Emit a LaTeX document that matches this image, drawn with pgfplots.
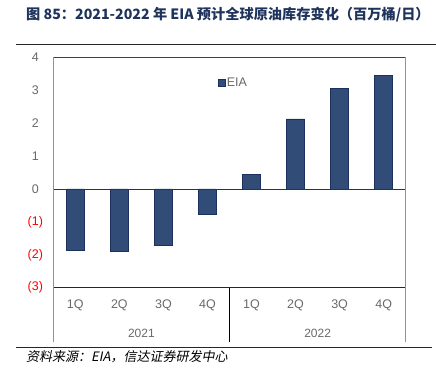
\documentclass[border=0pt]{standalone}
\usepackage{pgfplots}
\pgfplotsset{compat=1.18}
\usepackage{fontspec}
\setmainfont{Liberation Sans}
\newfontfamily\cjk{Noto Sans CJK SC}
\newfontfamily\cjkit[FakeSlant=0.2]{Noto Sans CJK SC}
\definecolor{barfill}{RGB}{50,76,120}
\definecolor{baredge}{RGB}{28,48,92}
\definecolor{titlecol}{RGB}{31,52,92}
\definecolor{lblgray}{RGB}{105,105,105}
\begin{document}
\begin{tikzpicture}
\useasboundingbox (-53.3pt,-87.3pt) rectangle (382.7pt,287.7pt);
\begin{axis}[
  at={(0,0)}, anchor=south west,
  scale only axis, width=352.4pt, height=230.4pt,
  xmin=0, xmax=8, ymin=-3, ymax=4,
  axis line style={draw=none},
  clip=false,
  major tick length=0pt,
  xtick={0.5,1.5,2.5,3.5,4.5,5.5,6.5,7.5},
  xticklabels={1Q,2Q,3Q,4Q,1Q,2Q,3Q,4Q},
  ytick={-3,-2,-1,0,1,2,3,4},
  yticklabels={\textcolor{red}{(3)},\textcolor{red}{(2)},\textcolor{red}{(1)},0,1,2,3,4},
  xticklabel style={anchor=center, yshift=-18pt, font=\fontsize{12.5}{14}\selectfont, text=lblgray},
  yticklabel style={anchor=center, xshift=-18pt, font=\fontsize{12.5}{14}\selectfont, text=lblgray},
  legend style={at={(axis cs:3.74,3.23)}, anchor=west, draw=none, fill=none,
    inner sep=0pt, font=\fontsize{12.5}{14}\selectfont, text=lblgray,
    nodes={inner sep=1.5pt}},
  legend image code/.code={\draw[fill=barfill,draw=baredge,line width=0.5pt] (0pt,-3.3pt) rectangle (6.6pt,3.3pt);},
]
\addplot[ybar, bar width=18pt, fill=barfill, draw=baredge, line width=0.6pt]
  coordinates {(0.5,-1.85) (1.5,-1.89) (2.5,-1.71) (3.5,-0.76)
               (4.5,0.45) (5.5,2.13) (6.5,3.06) (7.5,3.46)};
\addlegendentry{EIA}
\end{axis}
% frame lines (axis box: 352.4pt x 230.4pt, zero at 98.74pt)
\draw[black!80, line width=0.8pt] (0pt,98.74pt) -- (352.4pt,98.74pt);
\draw[black!75, line width=0.8pt] (0pt,230.4pt) -- (352.4pt,230.4pt);
\draw[black!85, line width=0.8pt] (0pt,0pt) -- (352.4pt,0pt);
\draw[gray!85, line width=0.9pt] (0pt,230.4pt) -- (0pt,-54pt);
\draw[gray!85, line width=0.9pt] (352.4pt,230.4pt) -- (352.4pt,-54pt);
\draw[black, line width=0.8pt] (176.2pt,0pt) -- (176.2pt,-54pt);
\node[font=\fontsize{12}{14}\selectfont, text=lblgray] at (88.1pt,-45.3pt) {2021};
\node[font=\fontsize{12}{14}\selectfont, text=lblgray] at (264.3pt,-45.3pt) {2022};
\node[anchor=west, inner sep=0pt, text=titlecol, font=\cjk\bfseries\fontsize{14.2}{16}\selectfont] at (-27.3pt,272.7pt)
  {图 85：2021-2022 年 EIA 预计全球原油库存变化（百万桶/日）};
\draw[black!85, line width=0.8pt] (-37.3pt,243.7pt) -- (382.7pt,243.7pt);
\draw[black!85, line width=0.8pt] (-37.3pt,-59.3pt) -- (378.7pt,-59.3pt);
\node[anchor=west, inner sep=0pt, font=\cjkit\fontsize{13}{15}\selectfont] at (-27.3pt,-69.3pt)
  {资料来源：EIA，信达证券研发中心};
\end{tikzpicture}
\end{document}
